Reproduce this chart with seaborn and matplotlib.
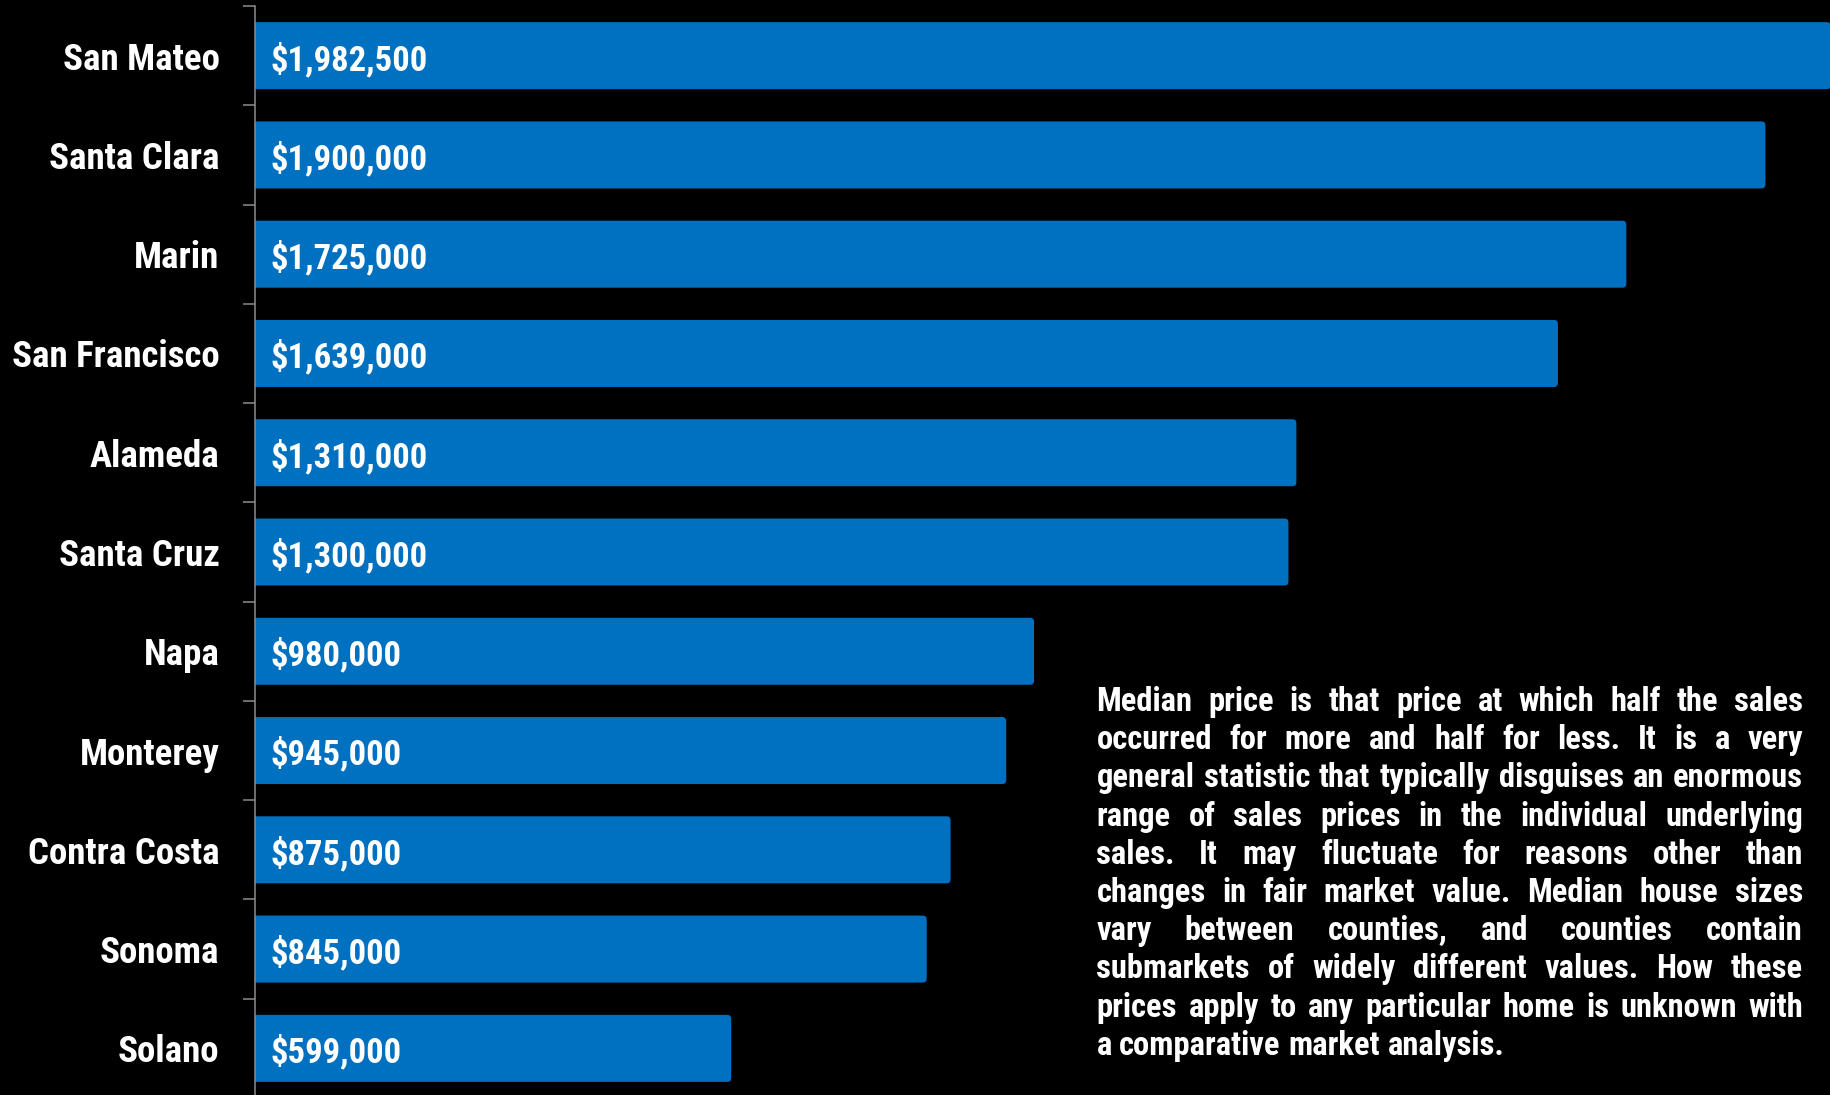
import matplotlib
matplotlib.use("Agg")
import matplotlib.pyplot as plt
import seaborn as sns
import pandas as pd
from matplotlib import font_manager
from matplotlib.patches import FancyBboxPatch

counties = ["San Mateo", "Santa Clara", "Marin", "San Francisco", "Alameda",
            "Santa Cruz", "Napa", "Monterey", "Contra Costa", "Sonoma", "Solano"]
prices = [1982500, 1900000, 1725000, 1639000, 1310000, 1300000,
          980000, 945000, 875000, 845000, 599000]
price_labels = ["$1,982,500", "$1,900,000", "$1,725,000", "$1,639,000", "$1,310,000",
                "$1,300,000", "$980,000", "$945,000", "$875,000", "$845,000", "$599,000"]
note_lines = [
    "Median price is that price at which half the sales",
    "occurred for more and half for less. It is a very",
    "general statistic that typically disguises an enormous",
    "range of sales prices in the individual underlying",
    "sales. It may fluctuate for reasons other than",
    "changes in fair market value. Median house sizes",
    "vary between counties, and counties contain",
    "submarkets of widely different values. How these",
    "prices apply to any particular home is unknown with",
    "a comparative market analysis.",
]

BLUE = "#0070C0"
W, H = 1831, 1095


def pick_font():
    for fam in ["Liberation Sans Narrow", "Roboto Condensed", "Open Sans Condensed",
                "Noto Sans Condensed", "Lato", "Open Sans"]:
        try:
            font_manager.findfont(font_manager.FontProperties(family=fam, weight="bold"),
                                  fallback_to_default=False)
            return fam
        except Exception:
            pass
    return "DejaVu Sans"


sns.set_theme(style="dark")
FAM = pick_font()
plt.rcParams["font.family"] = [FAM, "DejaVu Sans"]
plt.rcParams["figure.facecolor"] = "black"
plt.rcParams["axes.facecolor"] = "black"
plt.rcParams["savefig.facecolor"] = "black"

fig = plt.figure(figsize=(W / 100, H / 100), dpi=100)
renderer = fig.canvas.get_renderer()


def text_width(s, size):
    t = fig.text(0, 0, s, fontsize=size, fontweight="bold", family=[FAM, "DejaVu Sans"])
    w = t.get_window_extent(renderer).width
    t.remove()
    return w


# scale font sizes to match reference widths
cat_size = 26 * 208 / text_width("San Francisco", 26)
val_size = 26 * 158 / text_width("$1,982,500", 26)

ax_left = 255
ax_top = 6
ax_bottom = 1098
ax = fig.add_axes([ax_left / W, (H - ax_bottom) / H, (W - ax_left) / W,
                   (ax_bottom - ax_top) / H])

df = pd.DataFrame({"county": counties, "price": prices})
sns.barplot(data=df, y="county", x="price", orient="h", color=BLUE,
            saturation=1, width=0.675, linewidth=0, edgecolor=BLUE, ax=ax)

ax.set_xlim(0, prices[0])
ax.set_ylim(len(counties) - 0.5, -0.5)
ax.set_xlabel("")
ax.set_ylabel("")
ax.set_xticks([])
for s in ["top", "right", "bottom"]:
    ax.spines[s].set_visible(False)
ax.spines["left"].set_color("#8c8c8c")
ax.spines["left"].set_linewidth(1.1)
ax.spines["left"].set_zorder(5)
ax.grid(False)

# round the bar ends slightly (like the reference)
px_per_x = (W - ax_left) / prices[0]
px_per_y = (ax_bottom - ax_top) / len(counties)
r = 4 / px_per_x
for p in list(ax.patches):
    x0, y0, w, h = p.get_x(), p.get_y(), p.get_width(), p.get_height()
    fb = FancyBboxPatch((x0 - r * 2, y0), w + r * 2, h,
                        boxstyle=f"round,pad=0,rounding_size={r}",
                        mutation_aspect=px_per_x / px_per_y,
                        facecolor=BLUE, edgecolor="none", linewidth=0, zorder=2)
    p.remove()
    ax.add_patch(fb)

ax.set_yticks(range(len(counties)))
ax.set_yticklabels(counties)
ax.tick_params(axis="y", which="major", length=0, pad=25.5, labelsize=cat_size,
               labelcolor="white")
for lab in ax.get_yticklabels():
    lab.set_fontweight("bold")
ax.set_yticks([i - 0.5 for i in range(len(counties) + 1)], minor=True)
ax.tick_params(axis="y", which="minor", length=8.6, width=1.1, color="#8c8c8c",
               direction="out", left=True)

for i, lab in enumerate(price_labels):
    ax.annotate(lab, xy=(0, i), xytext=(16, 0), textcoords="offset pixels",
                ha="left", va="center_baseline", color="white", fontsize=val_size,
                fontweight="bold", zorder=6)

# justified note text
box_left, box_right = 1096.5, 1803
box_w = box_right - box_left
base0, pitch = 711, 38.2
natural = max(text_width(l, 20) for l in note_lines[:-1])
note_size = 20 * (box_w * 0.985) / natural

for i, line in enumerate(note_lines):
    y = 1 - (base0 + i * pitch) / H
    words = line.split(" ")
    widths = [text_width(wd, note_size) for wd in words]
    if i < len(note_lines) - 1 and len(words) > 1:
        gap = (box_w - sum(widths)) / (len(words) - 1)
    else:
        gap = text_width("a b", note_size) - text_width("a", note_size) - text_width("b", note_size)
    x = box_left
    for wd, ww in zip(words, widths):
        fig.text(x / W, y, wd, ha="left", va="baseline", color="white",
                 fontsize=note_size, fontweight="bold")
        x += ww + gap

fig.savefig("out.png", dpi=100, facecolor="black")
